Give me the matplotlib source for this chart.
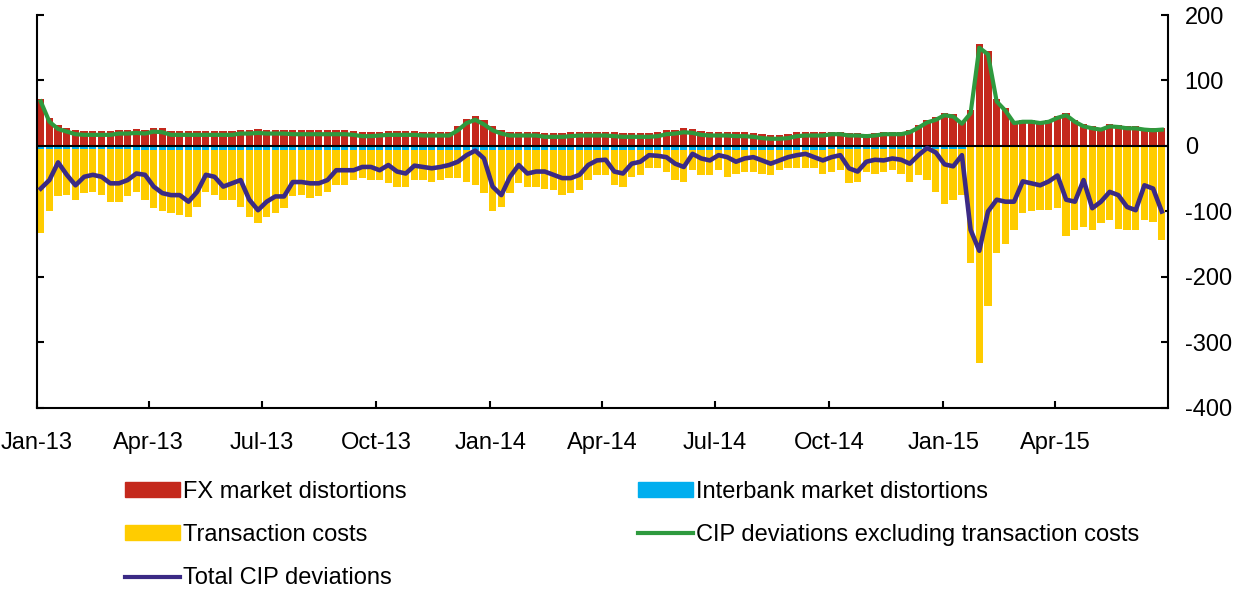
import datetime as dt
import matplotlib
matplotlib.use("Agg")
import matplotlib.pyplot as plt
import matplotlib.dates as mdates
from matplotlib.patches import Patch
from matplotlib.lines import Line2D

plt.rcParams['font.family'] = ['Liberation Sans', 'DejaVu Sans']

# weekly observations, first week starting 1 Jan 2013
start = dt.date(2013, 1, 1)
n_weeks = 130
weeks = [start + dt.timedelta(days=7 * i) for i in range(n_weeks)]

fx_market = [72, 42, 32, 28, 24, 23, 23, 23, 23, 25,
             25, 26, 25, 28, 27, 23, 23, 23, 23, 23,
             23, 23, 23, 25, 25, 26, 25, 25, 25, 24,
             24, 24, 24, 24, 24, 24, 23, 21, 21, 22,
             23, 23, 23, 23, 22, 22, 22, 22, 30, 41,
             46, 39, 30, 25, 22, 22, 22, 22, 20, 20,
             20, 21, 22, 22, 22, 22, 21, 20, 20, 20,
             20, 21, 24, 25, 27, 26, 23, 22, 22, 22,
             21, 21, 20, 18, 17, 17, 18, 21, 22, 22,
             22, 22, 22, 20, 20, 19, 20, 22, 22, 22,
             25, 32, 40, 44, 51, 49, 38, 55, 155, 145,
             72, 58, 38, 40, 40, 38, 40, 46, 50, 40,
             33, 30, 28, 33, 32, 30, 30, 28, 27, 28]

interbank = [-4] * 11 + [-6] * 80 + [-4] * 16 + [-2] * 23

transaction = [-129, -96, -73, -71, -78, -68, -66, -71, -81, -81,
               -73, -64, -76, -89, -94, -97, -99, -102, -87, -64,
               -69, -76, -76, -87, -102, -112, -102, -97, -89, -71,
               -69, -74, -71, -64, -54, -54, -46, -43, -46, -46,
               -51, -56, -56, -46, -46, -49, -46, -43, -43, -49,
               -54, -66, -94, -87, -66, -51, -56, -56, -59, -61,
               -69, -66, -61, -46, -38, -38, -54, -56, -41, -38,
               -28, -28, -33, -46, -49, -31, -38, -38, -31, -41,
               -36, -33, -33, -36, -38, -31, -28, -28, -28, -28,
               -36, -35, -33, -53, -51, -35, -38, -35, -33, -38,
               -51, -40, -48, -66, -84, -78, -71, -177, -330, -243,
               -162, -147, -126, -101, -98, -96, -96, -93, -136, -126,
               -121, -126, -116, -111, -124, -126, -126, -111, -114, -141]

cip_ex_tc = [68, 37, 26, 22, 18, 17, 17, 17, 17, 19,
             19, 20, 19, 22, 21, 17, 17, 17, 17, 17,
             17, 17, 17, 19, 19, 20, 19, 19, 19, 18,
             18, 18, 18, 18, 18, 18, 17, 15, 15, 16,
             17, 17, 17, 17, 16, 16, 16, 16, 24, 35,
             40, 33, 24, 19, 16, 16, 16, 16, 14, 14,
             14, 15, 16, 16, 16, 16, 15, 14, 14, 14,
             14, 15, 18, 19, 21, 20, 17, 16, 16, 16,
             15, 15, 14, 12, 11, 11, 12, 15, 16, 16,
             16, 18, 18, 16, 16, 15, 16, 18, 18, 18,
             21, 28, 36, 40, 47, 45, 34, 50, 150, 140,
             68, 54, 35, 37, 37, 35, 37, 43, 47, 37,
             30, 27, 25, 30, 29, 27, 27, 25, 24, 25]

total_cip = [-65, -52, -25, -44, -60, -47, -44, -47, -57, -57,
             -52, -42, -44, -62, -72, -75, -75, -85, -70, -44,
             -47, -62, -57, -52, -82, -98, -85, -77, -77, -55,
             -55, -57, -57, -52, -37, -37, -37, -32, -32, -37,
             -29, -39, -42, -30, -32, -34, -32, -29, -24, -14,
             -7, -19, -62, -75, -47, -29, -42, -39, -39, -44,
             -49, -49, -44, -29, -22, -21, -39, -42, -27, -24,
             -14, -15, -17, -27, -32, -12, -19, -22, -14, -17,
             -24, -19, -17, -22, -27, -22, -17, -14, -12, -17,
             -22, -17, -14, -34, -39, -24, -21, -22, -19, -21,
             -27, -14, -3, -10, -28, -31, -14, -128, -160, -100,
             -82, -85, -85, -54, -57, -60, -54, -45, -82, -85,
             -52, -95, -85, -70, -75, -93, -98, -60, -65, -100]

quarter_ticks = [dt.date(2013, 1, 1), dt.date(2013, 4, 1), dt.date(2013, 7, 1),
                 dt.date(2013, 10, 1), dt.date(2014, 1, 1), dt.date(2014, 4, 1),
                 dt.date(2014, 7, 1), dt.date(2014, 10, 1), dt.date(2015, 1, 1),
                 dt.date(2015, 4, 1)]
quarter_labels = ['Jan-13', 'Apr-13', 'Jul-13', 'Oct-13', 'Jan-14', 'Apr-14',
                  'Jul-14', 'Oct-14', 'Jan-15', 'Apr-15']

red = '#C4281C'
blue = '#00AEEF'
yellow = '#FFCC00'
green = '#2E9A3E'
purple = '#3B2A85'

fig = plt.figure(figsize=(12.43, 5.90), dpi=100)
ax = fig.add_axes([37 / 1243, 1 - 408 / 590, (1168 - 37) / 1243, (408 - 15) / 590])

xb = mdates.date2num(weeks)
mid = xb + 3
ax.bar(xb, fx_market, width=5.9, align='edge', color=red, linewidth=0, zorder=2)
ax.bar(xb, interbank, width=5.9, align='edge', color=blue, linewidth=0, zorder=2)
ax.bar(xb, transaction, width=5.9, align='edge', bottom=interbank, color=yellow,
       linewidth=0, zorder=2)
ax.axhline(0, color='black', lw=1.5, zorder=3)
ax.plot(mid, cip_ex_tc, color=green, lw=3, zorder=4)
ax.plot(mid, total_cip, color=purple, lw=3.3, zorder=5)

ax.set_xlim(mdates.date2num(dt.date(2013, 1, 1)), mdates.date2num(dt.date(2015, 7, 1)))
ax.set_ylim(-400, 200)
ax.set_yticks([-400, -300, -200, -100, 0, 100, 200])
ax.set_yticklabels(['-400', '-300', '-200', '-100', '0', '100', '200'])
ax.set_xticks(mdates.date2num(quarter_ticks))
ax.set_xticklabels(quarter_labels)

ax.spines['top'].set_visible(False)
for s in ['left', 'right', 'bottom']:
    ax.spines[s].set_linewidth(1.5)
ax.tick_params(axis='y', left=True, right=True, labelleft=False, labelright=True,
               direction='in', length=5, width=1.5, pad=12, labelsize=17)
ax.tick_params(axis='x', direction='in', length=5, width=1.5, pad=17, labelsize=17)

handles = [Patch(color=red), Patch(color=yellow), Line2D([], [], color=purple, lw=3),
           Patch(color=blue), Line2D([], [], color=green, lw=3)]
labels = ['FX market distortions', 'Transaction costs', 'Total CIP deviations',
          'Interbank market distortions', 'CIP deviations excluding transaction costs']
fig.legend(handles, labels, ncol=2, loc='upper left', bbox_to_anchor=(125 / 1243, 1 - 481 / 590),
           frameon=False, fontsize=17, handlelength=2.33, handleheight=0.6,
           handletextpad=0.12, labelspacing=0.9, columnspacing=9.8, borderpad=0,
           borderaxespad=0)

fig.savefig('out.png', dpi=100)
